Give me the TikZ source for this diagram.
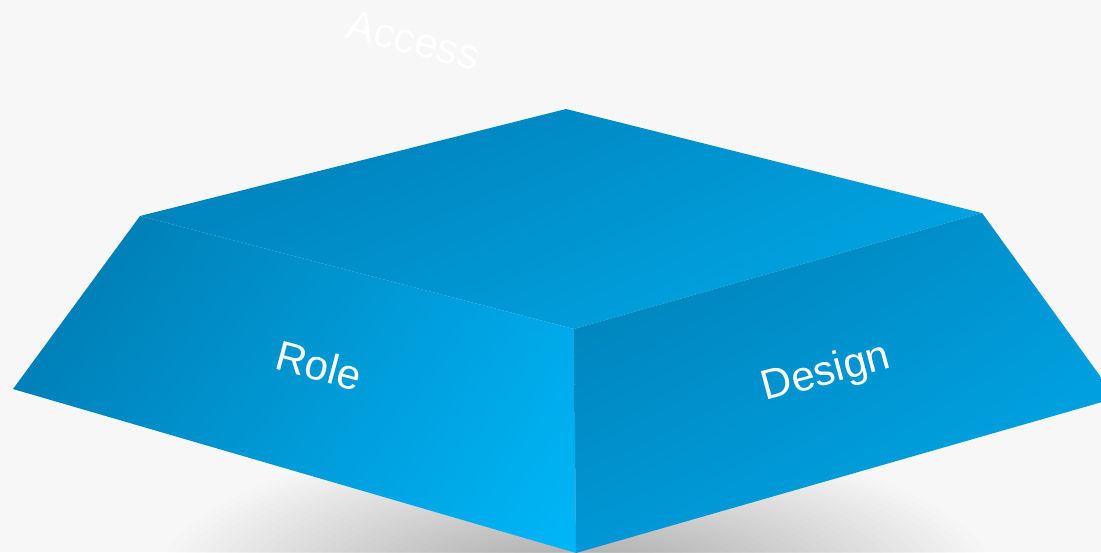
\documentclass[tikz,border=0pt]{standalone}
\usepackage{fontspec}
\setmainfont{Liberation Sans}
\usetikzlibrary{shadings}
\definecolor{bg}{HTML}{F7F7F7}
\definecolor{tl1}{HTML}{007AB2}\definecolor{tl2}{HTML}{009AD8}\definecolor{tl3}{HTML}{008ECA}\definecolor{tl4}{HTML}{00ABE9}
\definecolor{ll1}{HTML}{0076AA}\definecolor{ll2}{HTML}{00A4E4}\definecolor{ll3}{HTML}{008AC6}\definecolor{ll4}{HTML}{00B7F8}
\definecolor{rl1}{HTML}{007DB2}\definecolor{rl2}{HTML}{0096D4}\definecolor{rl3}{HTML}{0097D6}\definecolor{rl4}{HTML}{00AAEA}
\tikzset{
  lbl/.style={text=white, font=\fontsize{42}{42}\selectfont, inner sep=0pt, anchor=base},
  shadowlayer/.style={fill=black, fill opacity=0.008, draw=none}
}
\begin{document}
\begin{tikzpicture}[x=1pt,y=-1pt]
\useasboundingbox (0,0) rectangle (1101,552);
\clip (0,0) rectangle (1101,552);
\fill[bg] (0,0) rectangle (1101,552);
% soft shadow
\foreach \i in {0,...,39}{
  \fill[shadowlayer] (576,585) ellipse [x radius={420*(1-\i/42)}, y radius={150*(1-\i/42)}];
}
% vertices
\coordinate (TL) at (140,216);
\coordinate (TT) at (566,109);
\coordinate (TR) at (982,213);
\coordinate (TF) at (574,329);
\coordinate (BL) at (13,389);
\coordinate (BF) at (576,553);
\coordinate (BR) at (1116,398);
% faces
\shade[upper left=tl1, upper right=tl2, lower left=tl3, lower right=tl4] (TL) -- (TT) -- (TR) -- (TF) -- cycle;
\shade[upper left=ll1, upper right=ll2, lower left=ll3, lower right=ll4] (TL) -- (TF) -- (BF) -- (BL) -- cycle;
\shade[upper left=rl1, upper right=rl2, lower left=rl3, lower right=rl4] (TF) -- (TR) -- (BR) -- (BF) -- cycle;
% labels
\node[lbl, rotate=-14] (access) at (410,54) {Access};
\node[lbl, rotate=-15] (role) at (315,380) {Role};
\node[lbl, rotate=15] (design) at (829,384) {Design};
\end{tikzpicture}
\end{document}
